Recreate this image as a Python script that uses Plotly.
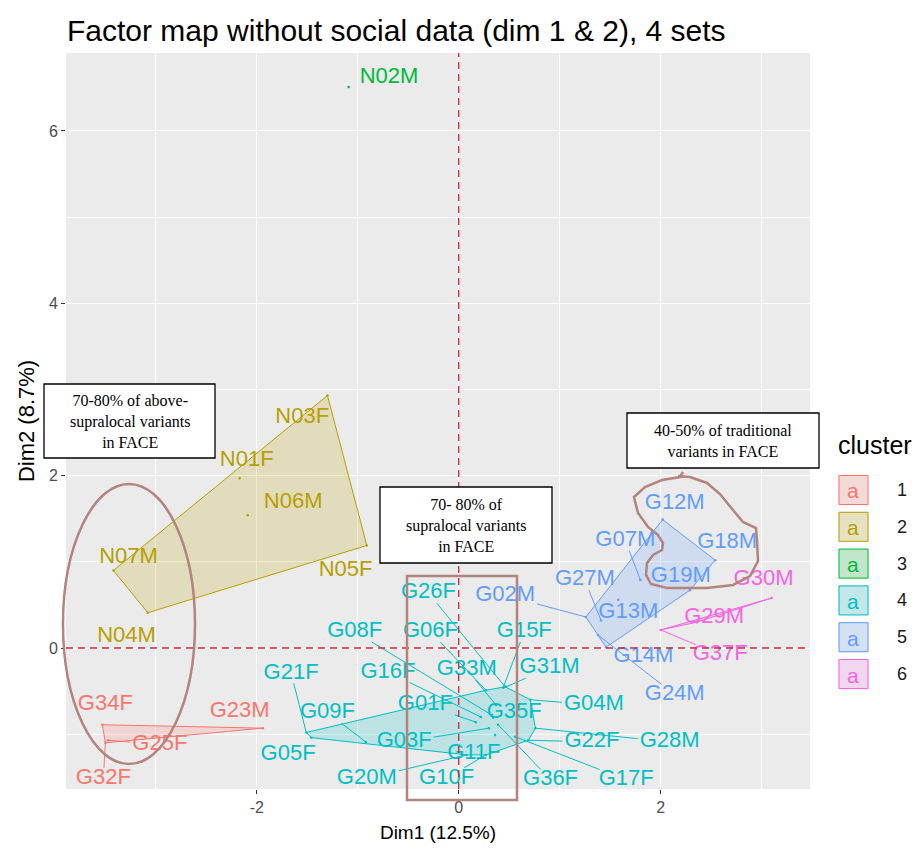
import plotly.graph_objects as go

# ---------------- data ----------------
names = ["N02M",
         "N03F", "N01F", "N06M", "N07M", "N05F", "N04M",
         "G34F", "G23M", "G25F", "G32F",
         "G30M", "G29M", "G37F",
         "G12M", "G18M", "G19M", "G07M", "G27M", "G13M", "G02M", "G14M", "G24M",
         "G21F", "G05F", "G09F", "G03F", "G20M", "G10F", "G11F", "G36F", "G17F",
         "G22F", "G28M", "G04M", "G35F", "G31M", "G15F", "G33M", "G16F", "G08F",
         "G06F", "G26F", "G01F"]
dim1 = [-1.09,
        -1.30, -2.17, -2.09, -3.42, -0.91, -3.08,
        -3.53, -1.94, -3.47, -3.50,
        3.10, 2.36, 2.00,
        2.02, 2.54, 2.29, 1.80, 1.41, 1.58, 1.26, 1.46, 1.38,
        -1.51, -1.46, -0.92, 0.30, 0.08, 0.27, 0.36, 0.39, 0.56,
        0.69, 0.76, 0.71, 0.34, 0.47, 0.44, 0.37, 0.22, 0.33,
        0.27, 0.46, 0.17]
dim2 = [6.51,
        2.93, 1.97, 1.54, 0.90, 1.19, 0.41,
        -0.89, -0.93, -1.07, -1.10,
        0.58, 0.30, 0.21,
        1.49, 1.02, 0.67, 0.79, 0.32, 0.56, 0.36, 0.01, 0.15,
        -0.98, -1.04, -1.09, -0.93, -1.24, -1.24, -1.01, -0.89, -1.03,
        -1.07, -0.93, -0.60, -0.81, -0.45, -0.46, -0.66, -0.80, -0.78,
        -0.49, -0.45, -0.86]
cluster = [3,
           2, 2, 2, 2, 2, 2,
           1, 1, 1, 1,
           6, 6, 6,
           5, 5, 5, 5, 5, 5, 5, 5, 5,
           4, 4, 4, 4, 4, 4, 4, 4, 4,
           4, 4, 4, 4, 4, 4, 4, 4, 4,
           4, 4, 4]
cluster_ids = [1, 2, 3, 4, 5, 6]
x_ticks = [-2, 0, 2]
y_ticks = [0, 2, 4, 6]
title_text = "Factor map without social data (dim 1 & 2), 4 sets"
x_title = "Dim1 (12.5%)"
y_title = "Dim2 (8.7%)"
legend_title = "cluster"
notes = ["70-80% of above-<br>supralocal variants<br>in FACE",
         "70- 80% of<br>supralocal variants<br>in FACE",
         "40-50% of traditional<br>variants in FACE"]

# ---------------- layout / style ----------------
COLORS = {1: "#F8766D", 2: "#B79F00", 3: "#00BA38",
          4: "#00BFC4", 5: "#619CFF", 6: "#F564E3"}
# repelled label placement (data units), as ggrepel placed them
LABEL_AT = {
    "N02M": (-0.69, 6.62), "N03F": (-1.55, 2.68), "N01F": (-2.10, 2.18),
    "N06M": (-1.64, 1.69), "N07M": (-3.27, 1.05), "N05F": (-1.12, 0.90),
    "N04M": (-3.29, 0.13), "G34F": (-3.50, -0.66), "G23M": (-2.17, -0.74),
    "G25F": (-2.96, -1.12), "G32F": (-3.52, -1.51), "G30M": (3.02, 0.79),
    "G29M": (2.53, 0.35), "G37F": (2.59, -0.08), "G12M": (2.14, 1.68),
    "G18M": (2.66, 1.22), "G19M": (2.20, 0.83), "G07M": (1.65, 1.25),
    "G27M": (1.25, 0.79), "G13M": (1.68, 0.41), "G02M": (0.46, 0.61),
    "G14M": (1.83, -0.10), "G24M": (2.14, -0.54), "G21F": (-1.66, -0.29),
    "G05F": (-1.69, -1.24), "G09F": (-1.30, -0.75), "G03F": (-0.54, -1.09),
    "G20M": (-0.91, -1.51), "G10F": (-0.12, -1.51), "G11F": (0.15, -1.22),
    "G36F": (0.91, -1.53), "G17F": (1.66, -1.53), "G22F": (1.32, -1.09),
    "G28M": (2.09, -1.09), "G04M": (1.34, -0.66), "G35F": (0.55, -0.75),
    "G31M": (0.90, -0.23), "G15F": (0.65, 0.19), "G33M": (0.08, -0.25),
    "G16F": (-0.70, -0.28), "G08F": (-1.03, 0.19), "G06F": (-0.28, 0.19),
    "G26F": (-0.30, 0.64), "G01F": (-0.33, -0.66),
}
W, H = 922, 861
ML, MR, MT, MB = 66, 112, 53, 72
XR = [-3.89, 3.48]
YR = [-1.636, 6.905]
PW, PH = W - ML - MR, H - MT - MB
SX = PW / (XR[1] - XR[0])
SY = PH / (YR[1] - YR[0])
LABEL_FS = 22
SEG_MIN = 20
FONT = "Liberation Sans, Arial, sans-serif"
SERIF = "Liberation Serif, Times New Roman, serif"
NOTE_COL = "#B3837E"
DASH_COL = "#C8283A"


def rgba(hexc, a):
    h = hexc.lstrip("#")
    return "rgba(%d,%d,%d,%.2f)" % (int(h[0:2], 16), int(h[2:4], 16), int(h[4:6], 16), a)


def hull(pts):
    pts = sorted(set(pts))
    if len(pts) <= 2:
        return pts

    def cross(o, a, b):
        return (a[0] - o[0]) * (b[1] - o[1]) - (a[1] - o[1]) * (b[0] - o[0])
    lower, upper = [], []
    for p in pts:
        while len(lower) >= 2 and cross(lower[-2], lower[-1], p) <= 0:
            lower.pop()
        lower.append(p)
    for p in reversed(pts):
        while len(upper) >= 2 and cross(upper[-2], upper[-1], p) <= 0:
            upper.pop()
        upper.append(p)
    return lower[:-1] + upper[:-1]


CW = {"G": .778, "N": .722, "M": .833, "F": .611}


def text_em(s):
    return sum(CW.get(c, .556) for c in s)


fig = go.Figure()

# hulls
for c in cluster_ids:
    pts = [(x, y) for x, y, k in zip(dim1, dim2, cluster) if k == c]
    h = hull(pts)
    if len(h) >= 3:
        hx = [p[0] for p in h] + [h[0][0]]
        hy = [p[1] for p in h] + [h[0][1]]
        fig.add_trace(go.Scatter(x=hx, y=hy, mode="lines", fill="toself",
                                 fillcolor=rgba(COLORS[c], 0.2),
                                 line=dict(color=COLORS[c], width=1),
                                 hoverinfo="skip", showlegend=False))

# repel segments
for c in cluster_ids:
    sx_, sy_ = [], []
    for n, x, y, k in zip(names, dim1, dim2, cluster):
        if k != c:
            continue
        lx, ly = LABEL_AT[n]
        dxp = (x - lx) * SX
        dyp = (y - ly) * SY
        hw = text_em(n) * LABEL_FS / 2 + 2
        hh = LABEL_FS * 0.38 + 2
        s = min(hw / abs(dxp) if dxp else 1e9, hh / abs(dyp) if dyp else 1e9)
        if s >= 1:
            continue
        if ((1 - s) * (dxp ** 2 + dyp ** 2) ** 0.5) < SEG_MIN:
            continue
        ex = lx + (x - lx) * s
        ey = ly + (y - ly) * s
        sx_ += [x, ex, None]
        sy_ += [y, ey, None]
    if sx_:
        fig.add_trace(go.Scatter(x=sx_, y=sy_, mode="lines",
                                 line=dict(color=COLORS[c], width=1),
                                 hoverinfo="skip", showlegend=False))

# points
for c in cluster_ids:
    xs = [x for x, k in zip(dim1, cluster) if k == c]
    ys = [y for y, k in zip(dim2, cluster) if k == c]
    fig.add_trace(go.Scatter(x=xs, y=ys, mode="markers",
                             marker=dict(size=2.5, color=COLORS[c]),
                             hoverinfo="skip", showlegend=False))

# labels
for c in cluster_ids:
    ns = [n for n, k in zip(names, cluster) if k == c]
    fig.add_trace(go.Scatter(x=[LABEL_AT[n][0] for n in ns],
                             y=[LABEL_AT[n][1] for n in ns],
                             mode="text", text=ns, textposition="middle center",
                             textfont=dict(family=FONT, size=LABEL_FS, color=COLORS[c]),
                             cliponaxis=False, hoverinfo="skip", showlegend=False))

shapes = []
annotations = []

# dashed reference lines
shapes.append(dict(type="line", xref="x", yref="paper", x0=0, x1=0, y0=0, y1=1,
                   line=dict(color=DASH_COL, width=1.3, dash="7px,5px"), layer="above"))
shapes.append(dict(type="line", xref="paper", yref="y", x0=0, x1=1, y0=0, y1=0,
                   line=dict(color=DASH_COL, width=1.3, dash="7px,5px"), layer="above"))


def pxp(v):
    return (v - ML) / PW


def pyp(v):
    return (H - MB - v) / PH


# hand-drawn highlight overlays
shapes.append(dict(type="circle", xref="paper", yref="paper",
                   x0=pxp(63), x1=pxp(195), y0=pyp(764), y1=pyp(484),
                   line=dict(color=NOTE_COL, width=2.5), layer="above"))
shapes.append(dict(type="rect", xref="paper", yref="paper",
                   x0=pxp(407), x1=pxp(517), y0=pyp(800), y1=pyp(576),
                   line=dict(color=NOTE_COL, width=2.5), layer="above"))
loop = [(683, 472), (680, 477), (662, 480), (645, 487), (634, 497), (638, 513),
        (648, 527), (658, 535), (663, 543), (662, 550), (653, 555), (647, 563),
        (646, 575), (651, 584), (667, 588), (707, 588), (733, 585), (750, 576),
        (758, 561), (757, 541), (756, 528), (743, 522), (733, 510), (720, 494),
        (707, 483), (690, 477), (678, 476)]
path = "M " + " L ".join("%.4f,%.4f" % (pxp(a), pyp(b)) for a, b in loop)
shapes.append(dict(type="path", xref="paper", yref="paper", path=path,
                   line=dict(color=NOTE_COL, width=2.5), layer="above"))

# text boxes
boxes = [((44, 384, 215, 458), notes[0]),
         ((380, 487, 552, 563), notes[1]),
         ((627, 413, 819, 468), notes[2])]
for (x0, y0, x1, y1), t in boxes:
    shapes.append(dict(type="rect", xref="paper", yref="paper",
                       x0=pxp(x0), x1=pxp(x1), y0=pyp(y1), y1=pyp(y0),
                       fillcolor="white", line=dict(color="black", width=1.3),
                       layer="above"))
    annotations.append(dict(xref="paper", yref="paper", x=pxp((x0 + x1) / 2),
                            y=pyp((y0 + y1) / 2), text=t, showarrow=False,
                            xanchor="center", yanchor="middle", align="center",
                            font=dict(family=SERIF, size=16, color="black")))

# title (left aligned with panel edge)
annotations.append(dict(xref="paper", yref="paper", x=pxp(65), y=pyp(30),
                        text=title_text, showarrow=False, xanchor="left",
                        yanchor="middle", font=dict(family=FONT, size=30, color="black")))

# custom legend
annotations.append(dict(xref="paper", yref="paper", x=pxp(836), y=pyp(445),
                        text=legend_title, showarrow=False, xanchor="left",
                        yanchor="middle", font=dict(family=FONT, size=25, color="black")))
for i, c in enumerate(cluster_ids):
    cy = 490 + i * 36.8
    shapes.append(dict(type="rect", xref="paper", yref="paper",
                       x0=pxp(838), x1=pxp(869), y0=pyp(cy + 15.5), y1=pyp(cy - 15.5),
                       fillcolor="#F2F2F2", line=dict(width=0), layer="above"))
    shapes.append(dict(type="rect", xref="paper", yref="paper",
                       x0=pxp(839), x1=pxp(868), y0=pyp(cy + 14.5), y1=pyp(cy - 14.5),
                       fillcolor=rgba(COLORS[c], 0.2),
                       line=dict(color=COLORS[c], width=1), layer="above"))
    annotations.append(dict(xref="paper", yref="paper", x=pxp(853.5), y=pyp(cy + 1),
                            text="a", showarrow=False, xanchor="center", yanchor="middle",
                            font=dict(family=FONT, size=21, color=COLORS[c])))
    annotations.append(dict(xref="paper", yref="paper", x=pxp(895), y=pyp(cy),
                            text=str(c), showarrow=False, xanchor="left", yanchor="middle",
                            font=dict(family=FONT, size=18, color="#1A1A1A")))

axis_common = dict(showline=False, zeroline=False, ticks="outside", ticklen=4,
                   tickcolor="#333333", tickwidth=1.1, automargin=False,
                   tickfont=dict(family=FONT, size=16, color="#4D4D4D"),
                   gridcolor="white", gridwidth=1.2,
                   minor=dict(dtick=1, tick0=0, showgrid=True, gridcolor="white",
                              gridwidth=0.6, ticks=""))

fig.update_layout(
    width=W, height=H,
    margin=dict(l=ML, r=MR, t=MT, b=MB, autoexpand=False),
    paper_bgcolor="white", plot_bgcolor="#EBEBEB",
    showlegend=False,
    xaxis=dict(range=XR, tickmode="array", tickvals=x_ticks,
               ticktext=[str(v) for v in x_ticks],
               title=dict(text=x_title, font=dict(family=FONT, size=19, color="black"),
                          standoff=10),
               **axis_common),
    yaxis=dict(range=YR, tickmode="array", tickvals=y_ticks,
               ticktext=[str(v) for v in y_ticks],
               title=dict(text=y_title, font=dict(family=FONT, size=22, color="black"),
                          standoff=8),
               **axis_common),
    shapes=shapes,
    annotations=annotations,
)

fig.write_html("out.html",
               config={"displayModeBar": False},
               post_script="document.body.style.margin='0';"
                           "document.body.style.padding='0';")
